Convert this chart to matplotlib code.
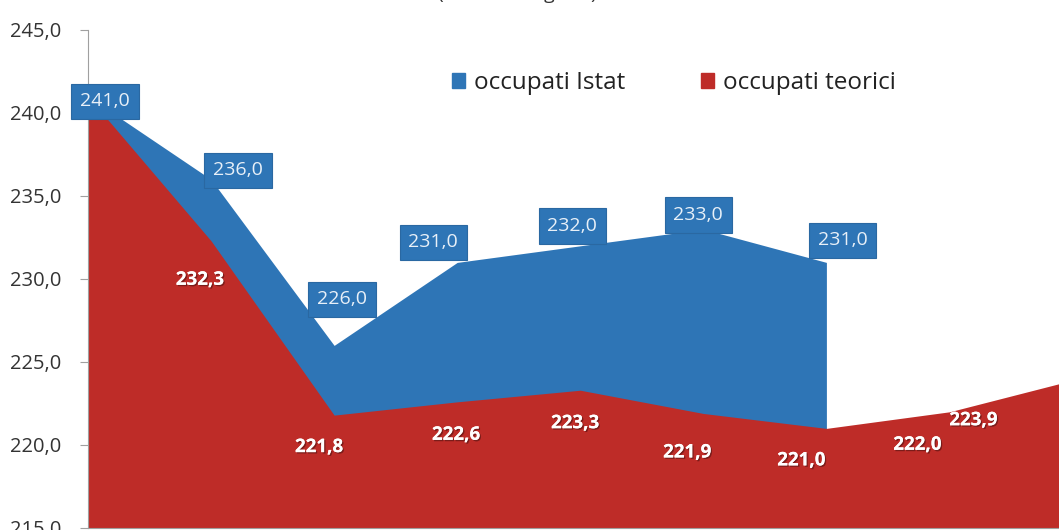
import matplotlib
matplotlib.use("Agg")
import matplotlib.pyplot as plt
import matplotlib.patheffects as pe
from matplotlib.patches import Patch
import numpy as np
plt.rcParams["font.family"] = "Open Sans"

# Data (thousands)
istat = [241.0, 236.0, 226.0, 231.0, 232.0, 233.0, 231.0]
teorici = [241.0, 232.3, 221.8, 222.6, 223.3, 221.9, 221.0, 222.0, 223.9]
series_names = ["occupati Istat", "occupati teorici"]
yticks = [215, 220, 225, 230, 235, 240, 245]

blue = "#2E75B6"
red = "#BE2C28"

# label offsets in pixels (dx, dy) from each point
istat_off = [(17, -5), (27, 9), (8, 46), (-24, 20), (-8, 20), (-5, 14), (16, 22)]
teorici_off = [None, (-11, -39), (-15, -32), (-1, -33), (-5, -33),
               (-16, -39), (-25, -32), (-32, -33), (-99, -40)]

fig = plt.figure(figsize=(10.59, 5.30), dpi=100)
ax = fig.add_axes([88 / 1059, 2 / 530, (1059 - 88) / 1059, 498 / 530])

x_i = np.arange(len(istat))
x_t = np.arange(len(teorici))
ax.fill_between(x_i, 215, istat, color=blue, linewidth=0, zorder=1)
ax.fill_between(x_t, 215, teorici, color=red, linewidth=0, zorder=2)

ax.set_xlim(0, 7.89)
ax.set_ylim(215, 245)
ax.set_yticks(yticks)
ax.set_yticklabels([f"{v:.1f}".replace(".", ",") for v in yticks])
ax.set_xticks([])
ax.tick_params(axis="y", direction="out", length=6, color="#a0a0a0",
               labelsize=14.5, labelcolor="#333333", pad=13)
for s in ["top", "right"]:
    ax.spines[s].set_visible(False)
ax.spines["left"].set_color("#a0a0a0")
ax.spines["bottom"].set_color("#a0a0a0")

# Istat labels: boxes
for i, v in enumerate(istat):
    dx, dy = istat_off[i]
    ax.annotate(f"{v:.1f}".replace(".", ","), (x_i[i], v),
                xytext=(dx, dy), textcoords="offset pixels",
                ha="center", va="center", fontsize=14, color="#E8F0F8",
                bbox=dict(boxstyle="square,pad=0.45", fc=blue, ec="#2A68A2", lw=0.8),
                zorder=5, annotation_clip=False)

# teorici labels: white bold with small shadow
shadow = [pe.withSimplePatchShadow(offset=(1, -1), shadow_rgbFace="black", alpha=0.35),
          pe.Normal()]
for i, v in enumerate(teorici):
    if teorici_off[i] is None:
        continue
    dx, dy = teorici_off[i]
    t = ax.annotate(f"{v:.1f}".replace(".", ","), (x_t[i], v),
                    xytext=(dx, dy), textcoords="offset pixels",
                    ha="center", va="center", fontsize=13.5, fontweight="bold",
                    color="white", zorder=6, annotation_clip=False)
    t.set_path_effects(shadow)

handles = [Patch(color=blue), Patch(color=red)]
fig.legend(handles, series_names, loc="center left",
           bbox_to_anchor=(452 / 1059, 1 - 83 / 530), ncol=2, frameon=False,
           fontsize=17.5, handlelength=0.55, handleheight=0.55, handletextpad=0.37,
           columnspacing=3.1, borderpad=0, borderaxespad=0, labelcolor="#222222")

# title, mostly cut off at the top
fig.text(517 / 1059, 1 + 1 / 530, "(valori in migliaia)", ha="center",
         va="baseline", fontsize=14, color="#333333")

fig.savefig("out.png", dpi=100)
